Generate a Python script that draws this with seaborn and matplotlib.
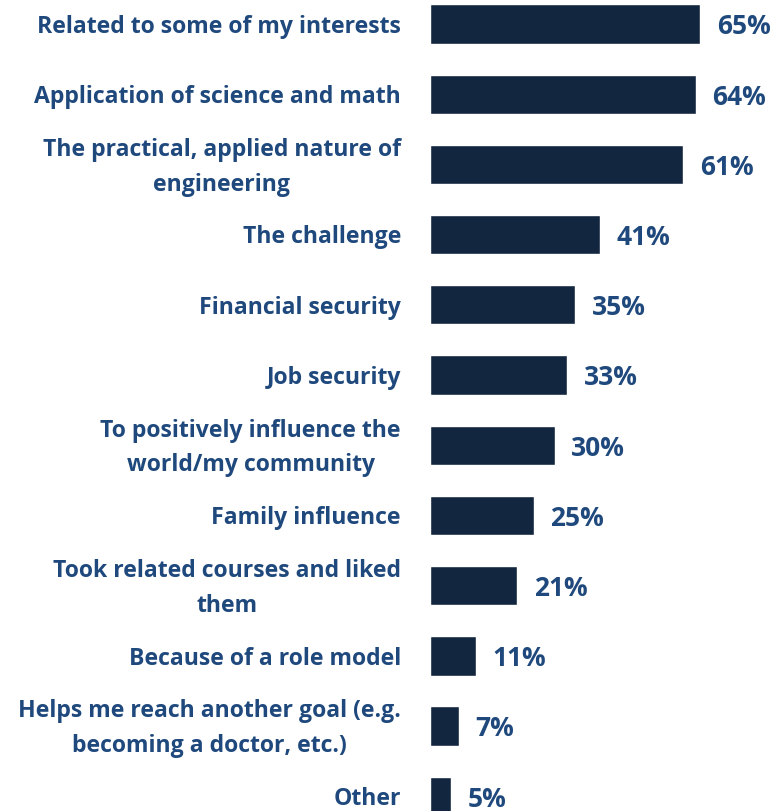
import matplotlib
matplotlib.use("Agg")
import matplotlib.pyplot as plt
import seaborn as sns
import pandas as pd

reasons = [
    "Related to some of my interests",
    "Application of science and math",
    "The practical, applied nature of\nengineering",
    "The challenge",
    "Financial security",
    "Job security",
    "To positively influence the\nworld/my community",
    "Family influence",
    "Took related courses and liked\nthem",
    "Because of a role model",
    "Helps me reach another goal (e.g.\nbecoming a doctor, etc.)",
    "Other",
]
percent = [65, 64, 61, 41, 35, 33, 30, 25, 21, 11, 7, 5]

BAR_COLOR = "#13263F"
TEXT_COLOR = "#1F497D"

df = pd.DataFrame({"reason": reasons, "percent": percent})

sns.set_theme(style="white")
fig = plt.figure(figsize=(7.75, 8.11), dpi=100)
ax = fig.add_axes([430 / 775, 0, 345 / 775, 1])

sns.barplot(data=df, x="percent", y="reason", orient="h", color=BAR_COLOR,
            saturation=1, width=0.56, ax=ax)

ax.set_xlim(0, 83.05)
ax.set_ylim(11.21, -0.342)
ax.set_xlabel("")
ax.set_ylabel("")
ax.set_xticks([])
ax.set_yticks([])
for s in ax.spines.values():
    s.set_visible(False)

for i, (lab, val) in enumerate(zip(reasons, percent)):
    ax.text(-7.0, i + 0.04, lab, ha="right", va="center", multialignment="center",
            fontsize=16.6, fontweight="bold", color=TEXT_COLOR,
            family=["Open Sans", "DejaVu Sans"], linespacing=1.6)
    ax.text(val + 4.0, i + 0.04, f"{val}%", ha="left", va="center",
            fontsize=19, fontweight="bold", color=TEXT_COLOR,
            family=["Open Sans", "DejaVu Sans"])

fig.savefig("out.png", dpi=100)
